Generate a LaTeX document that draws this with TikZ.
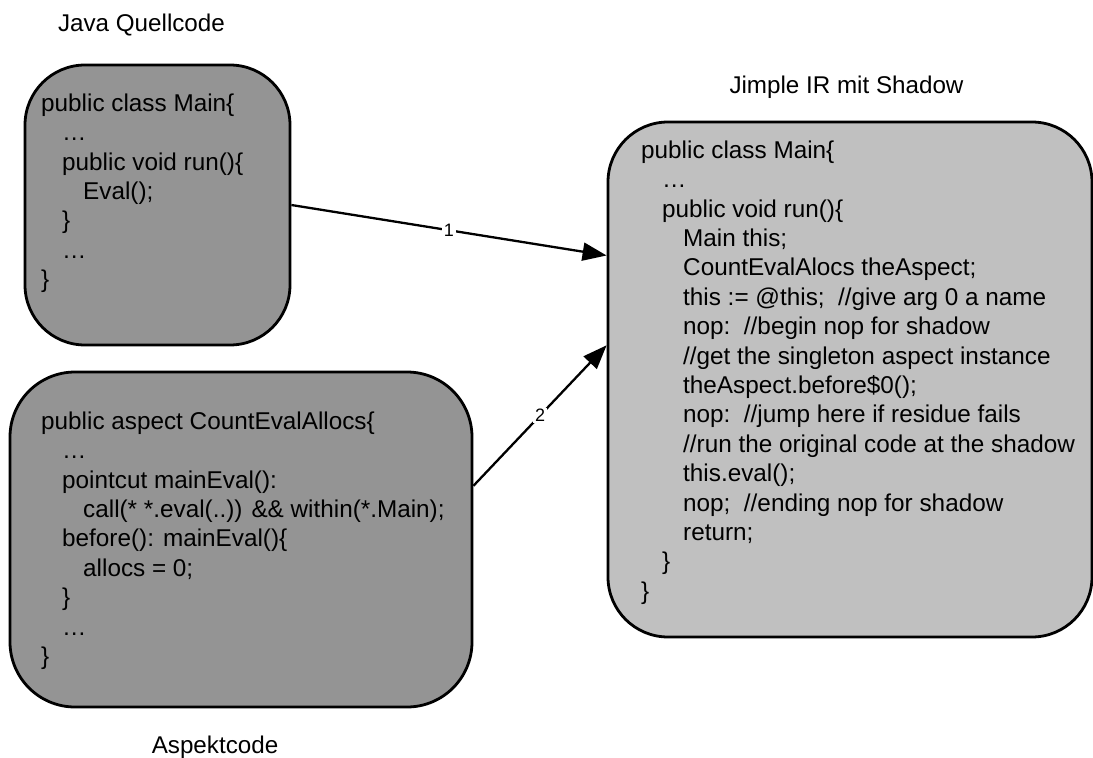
\documentclass[tikz,border=0pt]{standalone}
\usepackage{fontspec}
\setmainfont{Liberation Sans}
\usetikzlibrary{arrows.meta}

\definecolor{darkbox}{HTML}{949494}
\definecolor{lightbox}{HTML}{C0C0C0}

\tikzset{
  codebox/.style={draw=black, line width=2.8pt, rectangle, rounded corners=#1, inner sep=0pt},
  codetext/.style={anchor=north west, inner sep=0pt, align=left, font=\fontsize{24.3}{29.4}\selectfont},
  caption/.style={anchor=base, font=\fontsize{24.2}{28}\selectfont},
  flow/.style={line width=2.3pt, -{Triangle[length=24pt,width=18pt]}},
  step label/.style={fill=white, inner sep=1.5pt, font=\fontsize{18}{20}\selectfont}
}
\newcommand{\ind}{\hspace*{21pt}}

\begin{document}
\begin{tikzpicture}[x=1pt,y=-1pt]

\useasboundingbox (0,0) rectangle (1093,758);

\node [codebox=60pt, fill=darkbox, minimum width=265pt, minimum height=280pt] (java) at (157.5,205) {};
\node [codebox=65pt, fill=darkbox, minimum width=462pt, minimum height=335pt] (aspect) at (241,539.5) {};
\node [codebox=60pt, fill=lightbox, minimum width=484pt, minimum height=515pt] (jimple) at (850,379.5) {};

\node [codetext] (javacode) at (41,93.5) {%
public class Main\{\\
\ind\dots\\
\ind public void run()\{\\
\ind\ind Eval();\\
\ind\}\\
\ind\dots\\
\}};

\node [codetext] (aspectcode) at (41,411.5) {%
public aspect CountEvalAllocs\{\\
\ind\dots\\
\ind pointcut mainEval():\\
\ind\ind call(* *.eval(..)) \&\& within(*.Main);\\
\ind before(): mainEval()\{\\
\ind\ind allocs = 0;\\
\ind\}\\
\ind\dots\\
\}};

\node [codetext] (jimplecode) at (641,140.5) {%
public class Main\{\\
\ind\dots\\
\ind public void run()\{\\
\ind\ind Main this;\\
\ind\ind CountEvalAlocs theAspect;\\
\ind\ind this := @this;\ \ //give arg 0 a name\\
\ind\ind nop:\ \ //begin nop for shadow\\
\ind\ind //get the singleton aspect instance\\
\ind\ind theAspect.before\$0();\\
\ind\ind nop:\ \ //jump here if residue fails\\
\ind\ind //run the original code at the shadow\\
\ind\ind this.eval();\\
\ind\ind nop;\ \ //ending nop for shadow\\
\ind\ind return;\\
\ind\}\\
\}};

\node [caption] (javalabel) at (141.5,31) {Java Quellcode};
\node [caption] (jimplelabel) at (846.5,93) {Jimple IR mit Shadow};
\node [caption] (aspectlabel) at (215,753) {Aspektcode};

% weaving steps
\draw [flow] (java.east) -- node [step label] {1} (jimple.153.7);
\draw [flow] (aspect.13.9) -- node [step label] {2} (jimple.172.1);

\end{tikzpicture}
\end{document}
